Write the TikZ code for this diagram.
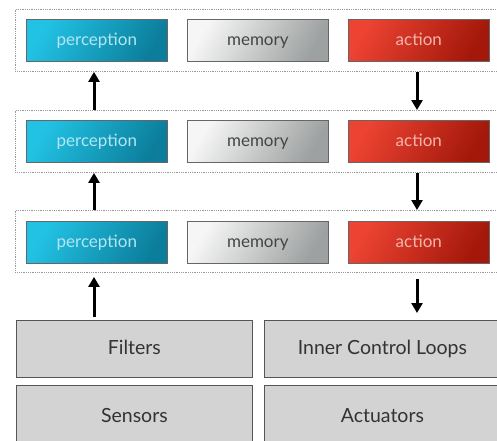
\documentclass[tikz,border=0pt]{standalone}
\usepackage{fontspec}
\setmainfont{Lato}
\usetikzlibrary{arrows.meta,positioning}
\definecolor{percL}{HTML}{22C2E4}
\definecolor{percD}{HTML}{0C7E9C}
\definecolor{percT}{HTML}{B2E6F2}
\definecolor{memL}{HTML}{F6F6F6}
\definecolor{memD}{HTML}{9EA1A1}
\definecolor{memT}{HTML}{444444}
\definecolor{actL}{HTML}{EC4332}
\definecolor{actD}{HTML}{A3180A}
\definecolor{actT}{HTML}{F3B5AC}
\definecolor{baseF}{HTML}{D3D3D3}
\definecolor{baseB}{HTML}{555555}
\tikzset{
  x=1pt,y=-1pt,
  layer/.style={draw=gray!80,line width=0.9pt,dash pattern=on 0.9pt off 0.9pt,minimum width=490pt,minimum height=62pt,anchor=north west,inner sep=0pt},
  cell/.style={draw=black!60,line width=0.6pt,minimum width=141pt,minimum height=42pt,anchor=north west,inner sep=0pt,font=\fontsize{17}{19}\selectfont,text height=14pt,text depth=3pt},
  perc/.style={cell,left color=percL,right color=percD,shading angle=60,text=percT},
  mem/.style={cell,left color=memL,right color=memD,shading angle=60,text=memT},
  act/.style={cell,left color=actL,right color=actD,shading angle=60,text=actT},
  base/.style={draw=baseB,fill=baseF,line width=0.8pt,anchor=north west,inner sep=0pt,minimum width=236pt,font=\fontsize{19.5}{22}\selectfont,text=black!80,text height=15.5pt,text depth=3.5pt},
  arr/.style={line width=3pt,-{Triangle[width=11pt,length=10pt]}}
}
\begin{document}
\begin{tikzpicture}
\clip (0,0) rectangle (497,440);
\fill[white] (0,0) rectangle (497,440);
% layers
\node[layer] (L1) at (15,9) {};
\node[layer] (L2) at (15,110) {};
\node[layer] (L3) at (15,210) {};
% row 1
\node[perc] (p1) at (26,19) {perception};
\node[mem]  (m1) at (187,19) {memory};
\node[act]  (a1) at (348,19) {action};
% row 2
\node[perc] (p2) at (26,120) {perception};
\node[mem]  (m2) at (187,120) {memory};
\node[act]  (a2) at (348,120) {action};
% row 3
\node[perc] (p3) at (26,221) {perception};
\node[mem]  (m3) at (187,221) {memory};
\node[act]  (a3) at (348,221) {action};
% base
\node[base,minimum height=57pt] (filt) at (16,320) {Filters};
\node[base,minimum height=57pt] (icl) at (264,320) {Inner Control Loops};
\node[base,minimum height=62pt] (sens) at (16,385) {Sensors};
\node[base,minimum height=62pt] (actu) at (264,385) {Actuators};
% arrows
\coordinate (lx) at (94,0);
\coordinate (rx) at (417,0);
\draw[arr] ([yshift=3pt]filt.north -| lx) -- ([yshift=-4pt]L3.south -| lx);
\draw[arr] (L3.north -| lx) -- (L2.south -| lx);
\draw[arr] (L2.north -| lx) -- (L1.south -| lx);
\draw[arr] (L1.south -| rx) -- (L2.north -| rx);
\draw[arr] (L2.south -| rx) -- (L3.north -| rx);
\draw[arr] ([yshift=-6pt]L3.south -| rx) -- ([yshift=7pt]icl.north -| rx);
\end{tikzpicture}
\end{document}
